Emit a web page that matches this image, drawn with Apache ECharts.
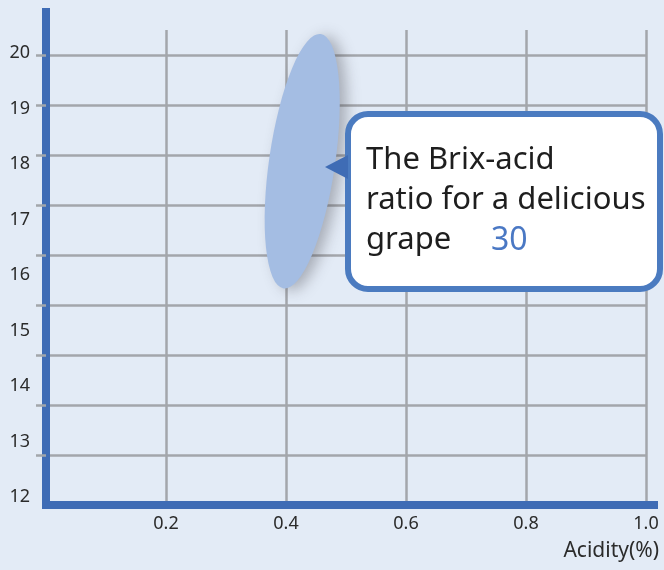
<!DOCTYPE html>
<html><head><meta charset="utf-8">
<script src="https://cdn.jsdelivr.net/npm/echarts@6/dist/echarts.min.js"></script>
<style>html,body{margin:0;padding:0;background:#e3ebf6}#c{width:664px;height:570px}</style>
</head><body><div id="c"></div>
<script>
// Data
const brixMin = 12, brixMax = 20;           // y axis (Brix) tick labels 12..20
const acidityMin = 0, acidityMax = 1.0;     // x axis (Acidity %) 0..1.0, step 0.2
const acidityStep = 0.2;
const gridRowCount = 8;                     // horizontal reference lines above the bottom one
const grapeRegion = [[0.427, 18.05]];       // centre of the "delicious grape" ellipse (acidity, brix)
const ratioValue = '30';
const calloutLines = ['The Brix-acid', 'ratio for a delicious', 'grape'];

const chart = echarts.init(document.getElementById('c'), null, {renderer: 'canvas'});
const grey = '#a3a6ab', blue = '#3f6cb5', txt = '#2b2b2b';
const font = 'Noto Sans';
chart.setOption({
  backgroundColor: '#e3ebf6',
  animation: false,
  textStyle: {fontFamily: font},
  grid: [
    {left: 46, right: 18, top: 53, bottom: 73},   // 0: data + y labels
    {left: 46, right: 18, top: 30, bottom: 65},   // 1: vertical lines + x labels
    {left: 46, right: 18, top: 55, bottom: 115},  // 2: horizontal lines
    {left: 46, right: 10, top: 12, bottom: 65}    // 3: axis lines
  ],
  xAxis: [
    {gridIndex: 0, type: 'value', min: acidityMin, max: acidityMax, show: false},
    {gridIndex: 1, type: 'value', min: acidityMin, max: acidityMax, interval: acidityStep,
      axisLine: {show: false}, axisTick: {show: false},
      axisLabel: {showMinLabel: false, color: txt, fontSize: 18, margin: 10, fontFamily: font,
        formatter: v => v.toFixed(1)},
      splitLine: {show: true, lineStyle: {color: grey, width: 2.5}}},
    {gridIndex: 2, type: 'value', min: 0, max: 1, show: false},
    {gridIndex: 3, type: 'value', min: 0, max: 1, axisLabel: {show: false}, axisTick: {show: false},
      splitLine: {show: false},
      axisLine: {show: true, lineStyle: {color: blue, width: 8, cap: 'square'}}}
  ],
  yAxis: [
    {gridIndex: 0, type: 'value', min: brixMin, max: brixMax, interval: 1,
      axisLine: {show: false}, axisTick: {show: false}, splitLine: {show: false},
      axisLabel: {color: txt, fontSize: 18, margin: 16, fontFamily: font}},
    {gridIndex: 1, type: 'value', min: 0, max: 1, show: false},
    {gridIndex: 2, type: 'value', min: 0, max: gridRowCount, interval: 1,
      axisLine: {show: false}, axisLabel: {show: false},
      axisTick: {show: true, length: 10, lineStyle: {color: grey, width: 2.5}},
      splitLine: {show: true, lineStyle: {color: grey, width: 2.5}}},
    {gridIndex: 3, type: 'value', min: 0, max: 1, axisLabel: {show: false}, axisTick: {show: false},
      splitLine: {show: false},
      axisLine: {show: true, lineStyle: {color: blue, width: 8, cap: 'square'}}}
  ],
  series: [{
    type: 'scatter', xAxisIndex: 0, yAxisIndex: 0, silent: true,
    data: grapeRegion,
    symbol: 'path://M0,50A50,50,0,1,1,100,50A50,50,0,1,1,0,50Z',
    symbolSize: [66, 257], symbolRotate: -8.3,
    itemStyle: {color: '#a4bde3', opacity: 1, shadowBlur: 14, shadowOffsetX: 7, shadowOffsetY: 2,
      shadowColor: 'rgba(60,60,70,0.35)'},
    z: 5
  }],
  graphic: [
    {type: 'text', z: 10, style: {text: 'Acidity(%)', x: 659, y: 551, align: 'right', verticalAlign: 'middle',
      fill: txt, font: '21px "' + font + '"'}},
    {type: 'rect', z: 20, shape: {x: 348, y: 114, width: 312, height: 175, r: 20},
      style: {fill: '#ffffff', stroke: '#4b7bc0', lineWidth: 6}},
    {type: 'polygon', z: 21, shape: {points: [[325, 167], [348, 155], [348, 179]]},
      style: {fill: blue}},
    {type: 'text', z: 22, style: {text: calloutLines.join('\n'), x: 366, y: 140, fill: '#1e1e1e',
      font: '31px "' + font + '"', lineHeight: 40, verticalAlign: 'top'}},
    {type: 'text', z: 22, style: {text: ratioValue, x: 491, y: 241, fill: '#4a78c4',
      font: '32px "' + font + '"', verticalAlign: 'middle'}}
  ]
});
</script></body></html>
